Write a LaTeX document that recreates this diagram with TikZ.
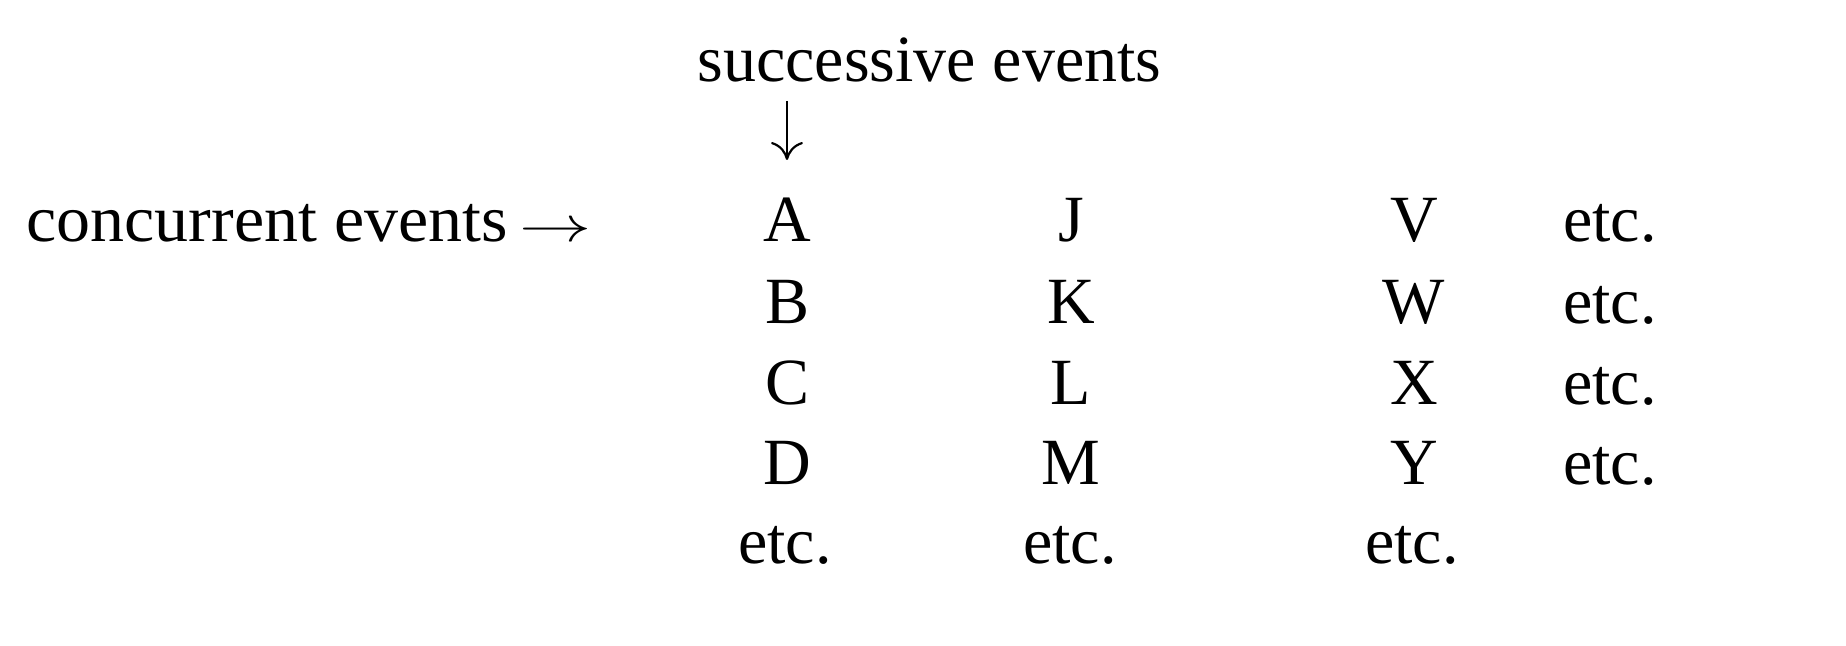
\documentclass[tikz,border=0pt]{standalone}
\usepackage{fontspec}
\setmainfont{Liberation Serif}
\usetikzlibrary{arrows.meta}
\begin{document}
\begin{tikzpicture}[x=0.5pt,y=-0.5pt,
  txt/.style={inner sep=0pt,font=\fontsize{33}{38}\selectfont,anchor=base},
  cmarrow/.style={line width=1.1pt,-{Computer Modern Rightarrow[length=9pt,width=16pt]}}]
\useasboundingbox (0,0) rectangle (1846,646);
\node[txt,text depth=0pt] (succ) at (929.5,82) {successive events};
\coordinate (dtop) at (787,101);
\coordinate (dbot) at (787,160);
\draw[cmarrow] (dtop) -- (dbot);
\node[txt,anchor=base west] (conc) at (26,242) {\scalebox{1.03}[1]{concurrent events}};
\node[txt,anchor=base east] (rarr) at (592,242) {\scalebox{1.45}[1]{$\rightarrow$}};
% column 1
\node[txt] (A) at (787,242) {A};
\node[txt] (B) at (787,324) {B};
\node[txt] (C) at (787,404) {C};
\node[txt] (D) at (787,484) {D};
\node[txt] (e1) at (785,563) {etc.};
% column 2
\node[txt] (J) at (1071,242) {J};
\node[txt] (K) at (1071,324) {K};
\node[txt] (L) at (1071,404) {L};
\node[txt] (M) at (1071,484) {M};
\node[txt] (e2) at (1070,563) {etc.};
% column 3
\node[txt] (V) at (1414,242) {V};
\node[txt] (W) at (1414,324) {W};
\node[txt] (X) at (1414,404) {X};
\node[txt] (Y) at (1414,484) {Y};
\node[txt] (e3) at (1412,563) {etc.};
% column 4
\node[txt] (r1) at (1610,242) {etc.};
\node[txt] (r2) at (1610,324) {etc.};
\node[txt] (r3) at (1610,404) {etc.};
\node[txt] (r4) at (1610,484) {etc.};
\end{tikzpicture}
\end{document}
